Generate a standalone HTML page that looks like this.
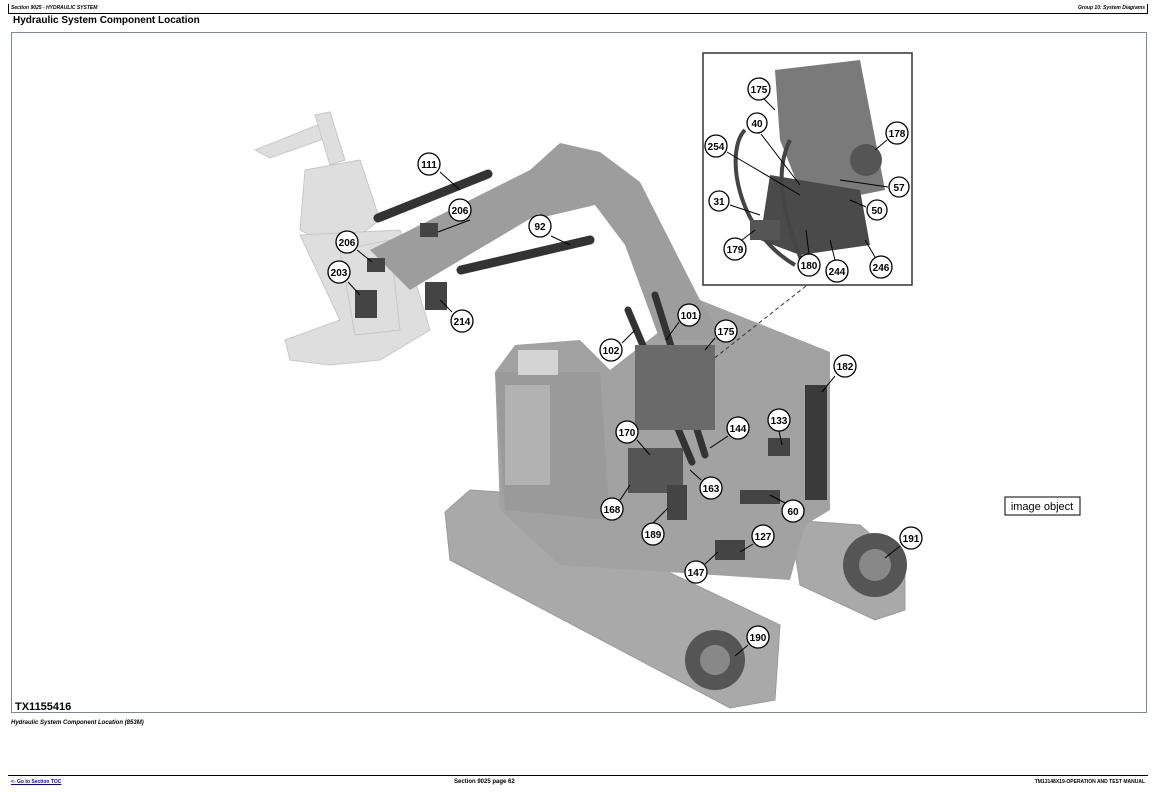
<!DOCTYPE html>
<html><head><meta charset="utf-8"><style>
body{margin:0;background:#fff;width:1155px;height:792px;overflow:hidden;font-family:"Liberation Sans",sans-serif;position:relative}
.t{position:absolute;font-size:5px;font-weight:bold;font-style:italic}
</style></head><body>
<div class="t" style="left:11px;top:5px">Section 9025 - HYDRAULIC SYSTEM</div>
<div class="t" style="right:10px;top:5px">Group 10: System Diagrams</div>
<div style="position:absolute;left:8px;top:13px;width:1140px;border-top:1.5px solid #000"></div>
<div style="position:absolute;left:8px;top:4px;height:9px;border-left:1px solid #000"></div>
<div style="position:absolute;left:1147px;top:4px;height:9px;border-left:1px solid #000"></div>
<div style="position:absolute;left:13px;top:15px;font-size:10px;font-weight:bold">Hydraulic System Component Location</div>
<div style="position:absolute;left:11px;top:32px;width:1136px;height:681px;border:1px solid #7a8a9a;box-sizing:border-box"></div>
<svg style="position:absolute;left:0;top:0" width="1155" height="792" font-family="Liberation Sans,sans-serif">
<!-- attachment -->
<g fill="#dedede" stroke="#c8c8c8">
<polygon points="255,150 330,120 335,135 270,158"/>
<polygon points="315,115 330,112 345,160 330,165"/>
<polygon points="305,170 360,160 380,220 340,250 300,230"/>
<polygon points="300,235 400,230 430,330 380,360 330,365 290,360 285,340 340,320"/>
<polygon points="340,250 390,240 400,330 355,335"/>
</g>
<!-- tracks -->
<g fill="#a9a9a9" stroke="#9a9a9a">
<polygon points="445,512 470,490 500,492 780,625 775,700 730,708 450,560"/>
<polygon points="790,520 860,525 905,565 905,610 875,620 800,585"/>
</g>
<!-- body -->
<g fill="#a2a2a2">
<polygon points="495,372 515,345 580,340 610,370 700,300 830,352 830,510 805,525 790,580 560,565 500,510"/>
<polygon points="495,372 600,372 610,520 505,510" fill="#9a9a9a"/>
<rect x="505" y="385" width="45" height="100" fill="#b2b2b2"/>
<rect x="518" y="350" width="40" height="25" fill="#d4d4d4"/>
</g>
<!-- boom -->
<g fill="#9d9d9d">
<polygon points="530,170 560,143 600,152 640,182 700,300 725,340 660,340 625,245 595,205 540,218"/>
<polygon points="370,250 540,165 570,195 410,290"/>
</g>
<!-- cylinders -->
<g stroke="#333" stroke-linecap="round" fill="none">
<line x1="378" y1="218" x2="488" y2="174" stroke-width="9"/>
<line x1="461" y1="270" x2="590" y2="240" stroke-width="9"/>
<line x1="628" y1="310" x2="692" y2="462" stroke-width="7"/>
<line x1="655" y1="295" x2="705" y2="455" stroke-width="7"/>
</g>
<g fill="#444">
<rect x="635" y="345" width="80" height="85" fill="#6a6a6a"/>
<rect x="628" y="448" width="55" height="45" fill="#555"/>
<rect x="805" y="385" width="22" height="115" fill="#3a3a3a"/>
<rect x="740" y="490" width="40" height="14" fill="#444"/>
<rect x="768" y="438" width="22" height="18"/>
<rect x="667" y="485" width="20" height="35"/>
<rect x="715" y="540" width="30" height="20"/>
<rect x="355" y="290" width="22" height="28"/>
<rect x="425" y="282" width="22" height="28"/>
<rect x="367" y="258" width="18" height="14"/>
<rect x="420" y="223" width="18" height="14"/>
<circle cx="875" cy="565" r="32" fill="#555"/>
<circle cx="715" cy="660" r="30" fill="#555"/>
<circle cx="875" cy="565" r="16" fill="#888"/>
<circle cx="715" cy="660" r="15" fill="#888"/>
</g>
<!-- inset -->
<rect x="703" y="53" width="209" height="232" fill="#fff" stroke="#333" stroke-width="1.5"/>
<polygon points="775,70 860,60 885,190 860,195 800,190 780,140" fill="#7a7a7a"/>
<circle cx="866" cy="160" r="16" fill="#555"/>
<polygon points="770,175 860,190 870,245 800,255 760,240" fill="#4a4a4a"/>
<path d="M745,130 C725,150 735,230 795,265 M790,140 C770,180 790,230 805,270" stroke="#444" stroke-width="4" fill="none"/>
<rect x="750" y="220" width="30" height="20" fill="#555"/>
<line x1="806" y1="286" x2="712" y2="360" stroke="#333" stroke-dasharray="4,3"/>
<g stroke="#000" stroke-width="1">
<line x1="440" y1="172" x2="460" y2="190"/><line x1="470" y1="220" x2="438" y2="232"/>
<line x1="551" y1="236" x2="570" y2="245"/><line x1="357" y1="250" x2="372" y2="262"/>
<line x1="348" y1="282" x2="360" y2="295"/><line x1="452" y1="312" x2="440" y2="300"/>
<line x1="622" y1="343" x2="635" y2="330"/><line x1="679" y1="322" x2="666" y2="340"/>
<line x1="715" y1="338" x2="705" y2="350"/><line x1="835" y1="376" x2="822" y2="392"/>
<line x1="779" y1="431" x2="782" y2="445"/><line x1="728" y1="436" x2="710" y2="448"/>
<line x1="637" y1="440" x2="650" y2="455"/><line x1="701" y1="480" x2="690" y2="470"/>
<line x1="620" y1="500" x2="630" y2="485"/><line x1="653" y1="523" x2="668" y2="508"/>
<line x1="785" y1="503" x2="770" y2="495"/><line x1="753" y1="544" x2="740" y2="552"/>
<line x1="705" y1="564" x2="718" y2="552"/><line x1="900" y1="546" x2="885" y2="558"/>
<line x1="748" y1="645" x2="735" y2="656"/>
<line x1="764" y1="99" x2="775" y2="110"/><line x1="761" y1="134" x2="800" y2="185"/>
<line x1="727" y1="152" x2="800" y2="195"/><line x1="887" y1="140" x2="875" y2="150"/>
<line x1="888" y1="187" x2="840" y2="180"/><line x1="866" y1="207" x2="850" y2="200"/>
<line x1="730" y1="205" x2="760" y2="215"/><line x1="742" y1="240" x2="755" y2="230"/>
<line x1="809" y1="254" x2="806" y2="230"/><line x1="835" y1="260" x2="830" y2="240"/>
<line x1="875" y1="257" x2="865" y2="240"/>
</g>
<g font-size="10" font-weight="bold" text-anchor="middle" fill="#000">
<g stroke="#000" stroke-width="1.3" fill="#fff">
<circle cx="429" cy="164" r="11"/><circle cx="460" cy="210" r="11"/><circle cx="540" cy="226" r="11"/>
<circle cx="347" cy="242" r="11"/><circle cx="339" cy="272" r="11"/><circle cx="462" cy="321" r="11"/>
<circle cx="611" cy="350" r="11"/><circle cx="689" cy="315" r="11"/><circle cx="726" cy="331" r="11"/>
<circle cx="845" cy="366" r="11"/><circle cx="779" cy="420" r="11"/><circle cx="738" cy="428" r="11"/>
<circle cx="627" cy="432" r="11"/><circle cx="711" cy="488" r="11"/><circle cx="612" cy="509" r="11"/>
<circle cx="653" cy="534" r="11"/><circle cx="793" cy="511" r="11"/><circle cx="763" cy="536" r="11"/>
<circle cx="696" cy="572" r="11"/><circle cx="911" cy="538" r="11"/><circle cx="758" cy="637" r="11"/>
<circle cx="759" cy="89" r="11"/><circle cx="757" cy="123" r="10"/><circle cx="897" cy="133" r="11"/>
<circle cx="716" cy="146" r="11"/><circle cx="899" cy="187" r="10"/><circle cx="719" cy="201" r="10"/>
<circle cx="877" cy="210" r="10"/><circle cx="735" cy="249" r="11"/><circle cx="809" cy="265" r="11"/>
<circle cx="837" cy="271" r="11"/><circle cx="881" cy="267" r="11"/>
</g>
<text x="429" y="168">111</text><text x="460" y="214">206</text><text x="540" y="230">92</text>
<text x="347" y="246">206</text><text x="339" y="276">203</text><text x="462" y="325">214</text>
<text x="611" y="354">102</text><text x="689" y="319">101</text><text x="726" y="335">175</text>
<text x="845" y="370">182</text><text x="779" y="424">133</text><text x="738" y="432">144</text>
<text x="627" y="436">170</text><text x="711" y="492">163</text><text x="612" y="513">168</text>
<text x="653" y="538">189</text><text x="793" y="515">60</text><text x="763" y="540">127</text>
<text x="696" y="576">147</text><text x="911" y="542">191</text><text x="758" y="641">190</text>
<text x="759" y="93">175</text><text x="757" y="127">40</text><text x="897" y="137">178</text>
<text x="716" y="150">254</text><text x="899" y="191">57</text><text x="719" y="205">31</text>
<text x="877" y="214">50</text><text x="735" y="253">179</text><text x="809" y="269">180</text>
<text x="837" y="275">244</text><text x="881" y="271">246</text>
</g>
<rect x="1005" y="497" width="75" height="18" fill="#fff" stroke="#000"/>
<text x="1042" y="510" font-size="11" text-anchor="middle">image object</text>
<text x="15" y="710" font-size="11" font-weight="bold">TX1155416</text>
</svg>
<div class="t" style="left:11px;top:720px;font-size:6px">Hydraulic System Component Location (853M)</div>
<div style="position:absolute;left:8px;top:775px;width:1140px;border-top:1.5px solid #000"></div>
<div class="t" style="left:11px;top:779px;color:#00c;text-decoration:underline;font-style:normal">&lt;- Go to Section TOC</div>
<div class="t" style="left:454px;top:779px;font-size:6px;font-style:normal">Section 9025 page 62</div>
<div class="t" style="right:10px;top:779px;font-style:normal">TM13148X19-OPERATION AND TEST MANUAL</div>
</body></html>
